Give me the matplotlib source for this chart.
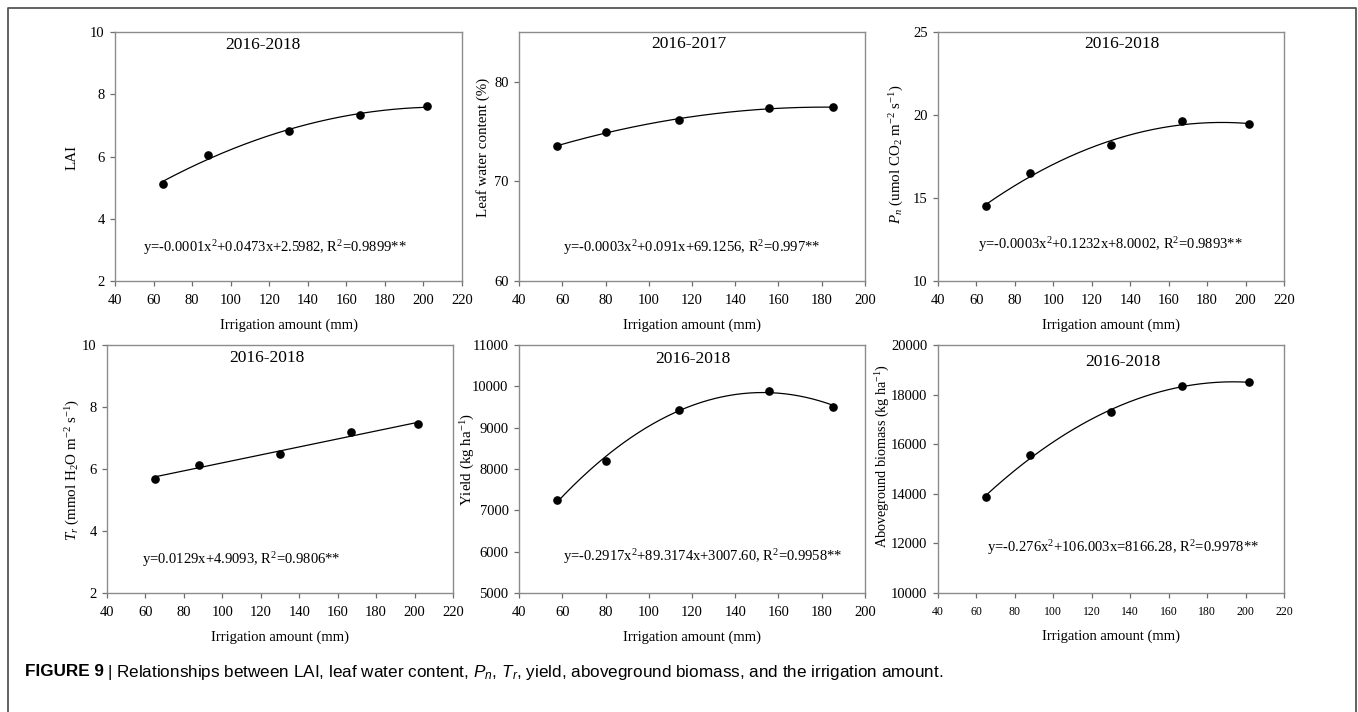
import numpy as np
import matplotlib
matplotlib.use("Agg")
import matplotlib.pyplot as plt
from matplotlib.lines import Line2D

plt.rcParams['font.family'] = ['Liberation Serif', 'DejaVu Serif']
plt.rcParams['mathtext.fontset'] = 'custom'
plt.rcParams['mathtext.rm'] = 'Liberation Serif'
plt.rcParams['mathtext.it'] = 'Liberation Serif:italic'
plt.rcParams['mathtext.sf'] = 'Liberation Sans:italic'

# -----------------------------------------------------------
#  data
# -----------------------------------------------------------
irr_a = [65, 88, 130, 167, 202]            # LAI, Pn, Tr, biomass
irr_b = [57.4, 80.2, 113.8, 155.8, 185.4]  # leaf water, yield

lai = [5.12, 6.05, 6.83, 7.32, 7.62]
leaf_water = [73.52, 74.97, 76.21, 77.32, 77.45]
pn = [14.52, 16.52, 18.18, 19.61, 19.43]
tr = [5.68, 6.145, 6.49, 7.19, 7.44]
yield_ = [7246, 8200, 9436, 9893, 9508]
biomass = [13879, 15557, 17302, 18349, 18497]

periods = ['2016-2018', '2016-2017', '2016-2018', '2016-2018', '2016-2018', '2016-2018']
equations = [
    'y=-0.0001x$^2$+0.0473x+2.5982, R$^2$=0.9899**',
    'y=-0.0003x$^2$+0.091x+69.1256, R$^2$=0.997**',
    'y=-0.0003x$^2$+0.1232x+8.0002, R$^2$=0.9893**',
    'y=0.0129x+4.9093, R$^2$=0.9806**',
    'y=-0.2917x$^2$+89.3174x+3007.60, R$^2$=0.9958**',
    'y=-0.276x$^2$+106.003x=8166.28, R$^2$=0.9978**',
]
ylabels = [
    'LAI',
    'Leaf water content (%)',
    '$P_n$ (umol CO$_2$ m$^{-2}$ s$^{-1}$)',
    '$T_r$ (mmol H$_2$O m$^{-2}$ s$^{-1}$)',
    'Yield (kg ha$^{-1}$)',
    'Aboveground biomass (kg ha$^{-1}$)',
]

W, H = 1358, 712
fig = plt.figure(figsize=(W / 100, H / 100), dpi=100)


def px_axes(l, r, t, b):
    return fig.add_axes([l / W, (H - b) / H, (r - l) / W, (b - t) / H])


panels = [
    # x, y, fit degree, box(l, r, t, b) px, xlim, ylim, yticks, title (x, y) px, equation (x, y) px, ylabel (x, y) px
    (irr_a, lai, 2, (115, 462, 32, 281), (40, 220), (2, 10), np.arange(2, 11, 2), (263, 45), (275, 248), (72, 157)),
    (irr_b, leaf_water, 2, (519, 865, 32, 281), (40, 200), (60, 85), [60, 70, 80], (689, 44), (692, 248), (483, 147)),
    (irr_a, pn, 2, (938, 1284, 32, 281), (40, 220), (10, 25), [10, 15, 20, 25], (1122, 44), (1110, 245), (897, 154)),
    (irr_a, tr, 1, (107, 453, 345, 593), (40, 220), (2, 10), np.arange(2, 11, 2), (267, 358), (241, 560), (73, 470)),
    (irr_b, yield_, 2, (519, 865, 345, 593), (40, 200), (5000, 11000), np.arange(5000, 11001, 1000), (693, 359), (703, 557), (468, 460)),
    (irr_a, biomass, 2, (938, 1284, 345, 593), (40, 220), (10000, 20000), np.arange(10000, 20001, 2000), (1123, 362), (1123, 548), (883, 456)),
]

for i, (xs, ys, deg, box, xlim, ylim, yticks, tpos, eq, ylpos) in enumerate(panels):
    ax = px_axes(*box)
    l, r, t, b = box
    xs = np.array(xs)
    ys = np.array(ys)
    # trend line fitted to the plotted points
    coef = np.polyfit(xs, ys, deg)
    xx = np.linspace(xs.min(), xs.max(), 200)
    ax.plot(xx, np.polyval(coef, xx), color='black', lw=0.9, zorder=2)
    ax.plot(xs, ys, 'o', color='black', ms=5.2, zorder=3)

    ax.set_xlim(*xlim)
    ax.set_ylim(*ylim)
    ax.set_xticks(np.arange(xlim[0], xlim[1] + 1, 20))
    ax.set_yticks(yticks)
    for sp in ax.spines.values():
        sp.set_color('#8c8c8c')
        sp.set_linewidth(1.0)
    ax.tick_params(direction='out', length=3.5, width=0.9, color='#6e6e6e', labelsize=10.5)
    ax.tick_params(axis='x', pad=6)
    ax.tick_params(axis='y', pad=4)
    if i == 5:
        ax.tick_params(axis='x', labelsize=8.5)

    ax.text((tpos[0] - l) / (r - l), (b - tpos[1]) / (b - t), periods[i], transform=ax.transAxes,
            ha='center', va='center', fontsize=12.5)
    ax.text((eq[0] - l) / (r - l), (b - eq[1]) / (b - t), equations[i], transform=ax.transAxes,
            ha='center', va='center', fontsize=10.5)

    ax.set_xlabel('Irrigation amount (mm)', fontsize=10.5, labelpad=8)
    ax.set_ylabel(ylabels[i], fontsize=10.8 if i != 5 else 10.2, va='center')
    ax.yaxis.set_label_coords((ylpos[0] - l) / (r - l), (b - ylpos[1]) / (b - t))

# outer frame, open at the bottom
fig.add_artist(Line2D([8 / W, 8 / W, 1356 / W, 1356 / W], [0, 1 - 8 / H, 1 - 8 / H, 0],
                      transform=fig.transFigure, color='#555555', lw=1.3))

# caption
cap_y = 1 - 672 / H
t1 = fig.text(25 / W, cap_y, 'FIGURE 9', fontsize=12.3, fontweight='bold',
              family=['Liberation Sans', 'DejaVu Sans'], va='center')
fig.canvas.draw()
bb = t1.get_window_extent()
fig.text((bb.x1 + 3) / W, cap_y,
         '| Relationships between LAI, leaf water content, $\\mathsf{P_n}$, $\\mathsf{T_r}$, '
         'yield, aboveground biomass, and the irrigation amount.',
         fontsize=12.3, family=['Liberation Sans', 'DejaVu Sans'], va='center')

plt.savefig('out.png', dpi=100)
